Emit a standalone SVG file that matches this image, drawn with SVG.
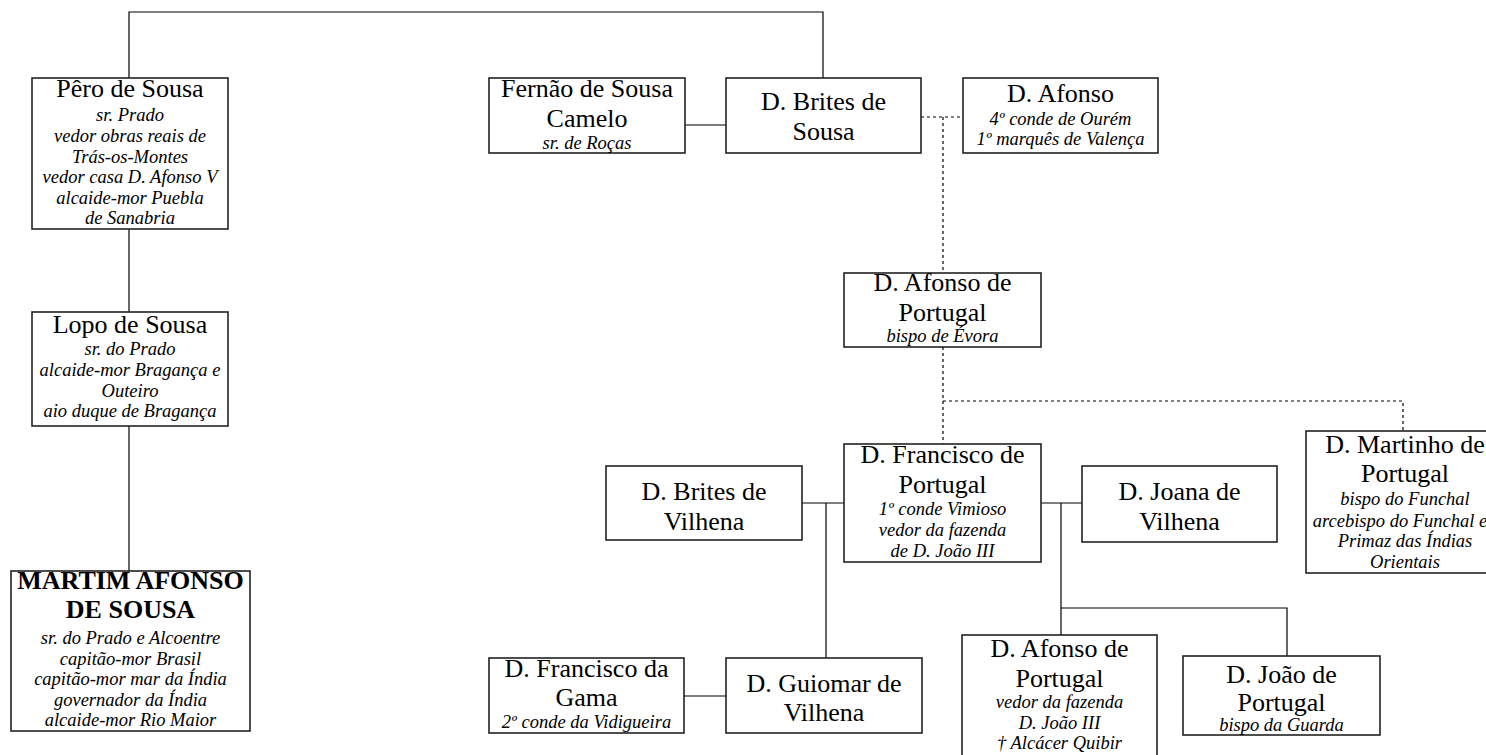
<svg xmlns="http://www.w3.org/2000/svg" width="1486" height="755" viewBox="0 0 1486 755">
  <style>
    .box { fill: #ffffff; stroke: #222222; stroke-width: 1.6; }
    .link { fill: none; stroke: #000000; stroke-width: 1.2; }
    .dot { fill: none; stroke: #000000; stroke-width: 1.2; stroke-dasharray: 3 3; }
    text { font-family: "Liberation Serif", "Times New Roman", serif; fill: #000000; text-anchor: middle; }
    .t { font-size: 26px; }
    .tb { font-size: 26px; font-weight: bold; }
    .s { font-size: 18.5px; font-style: italic; }
  </style>
  <rect width="1486" height="755" fill="#ffffff"/>

  <g id="connectors">
    <path class="link" d="M129,78 V12 H823 V78"/>
    <path class="link" d="M129,229 V312"/>
    <path class="link" d="M129,426 V571"/>
    <path class="link" d="M685,125 H726"/>
    <path class="dot" d="M921,117 H963"/>
    <path class="dot" d="M943,117 V273"/>
    <path class="dot" d="M943,347 V444"/>
    <path class="dot" d="M943,401 H1403 V431"/>
    <path class="link" d="M802,503 H844"/>
    <path class="link" d="M826,503 V658"/>
    <path class="link" d="M684,696 H726"/>
    <path class="link" d="M1041,503 H1082"/>
    <path class="link" d="M1061,503 V635"/>
    <path class="link" d="M1061,608 H1287 V656"/>
  </g>

  <g id="pero-de-sousa">
    <rect class="box" x="32" y="78" width="196" height="151"/>
    <text class="t" x="130" y="97">Pêro de Sousa</text>
    <text class="s" x="130" y="121">sr. Prado</text>
    <text class="s" x="130" y="142">vedor obras reais de</text>
    <text class="s" x="130" y="162.5">Trás-os-Montes</text>
    <text class="s" x="130" y="183">vedor casa D. Afonso V</text>
    <text class="s" x="130" y="204">alcaide-mor Puebla</text>
    <text class="s" x="130" y="224">de Sanabria</text>
  </g>

  <g id="lopo-de-sousa">
    <rect class="box" x="32" y="312" width="196" height="114"/>
    <text class="t" x="130" y="333">Lopo de Sousa</text>
    <text class="s" x="130" y="355">sr. do Prado</text>
    <text class="s" x="130" y="376">alcaide-mor Bragança e</text>
    <text class="s" x="130" y="397">Outeiro</text>
    <text class="s" x="130" y="417">aio duque de Bragança</text>
  </g>

  <g id="martim-afonso-de-sousa">
    <rect class="box" x="11" y="571" width="239" height="160"/>
    <text class="tb" x="130.5" y="589">MARTIM AFONSO</text>
    <text class="tb" x="130.5" y="618">DE SOUSA</text>
    <text class="s" x="130.5" y="644">sr. do Prado e Alcoentre</text>
    <text class="s" x="130.5" y="665">capitão-mor Brasil</text>
    <text class="s" x="130.5" y="685">capitão-mor mar da Índia</text>
    <text class="s" x="130.5" y="706">governador da Índia</text>
    <text class="s" x="130.5" y="726">alcaide-mor Rio Maior</text>
  </g>

  <g id="fernao-de-sousa-camelo">
    <rect class="box" x="489" y="78" width="196" height="75"/>
    <text class="t" x="587" y="97">Fernão de Sousa</text>
    <text class="t" x="587" y="127">Camelo</text>
    <text class="s" x="587" y="149">sr. de Roças</text>
  </g>

  <g id="brites-de-sousa">
    <rect class="box" x="726" y="78" width="195" height="75"/>
    <text class="t" x="823.5" y="110">D. Brites de</text>
    <text class="t" x="823.5" y="140">Sousa</text>
  </g>

  <g id="afonso-ourem">
    <rect class="box" x="963" y="78" width="195" height="75"/>
    <text class="t" x="1060.5" y="102">D. Afonso</text>
    <text class="s" x="1060.5" y="125">4º conde de Ourém</text>
    <text class="s" x="1060.5" y="145">1º marquês de Valença</text>
  </g>

  <g id="afonso-de-portugal-bispo">
    <rect class="box" x="844" y="273" width="197" height="74"/>
    <text class="t" x="942.5" y="291">D. Afonso de</text>
    <text class="t" x="942.5" y="321">Portugal</text>
    <text class="s" x="942.5" y="342">bispo de Évora</text>
  </g>

  <g id="francisco-de-portugal">
    <rect class="box" x="844" y="444" width="197" height="118"/>
    <text class="t" x="942.5" y="463">D. Francisco de</text>
    <text class="t" x="942.5" y="493">Portugal</text>
    <text class="s" x="942.5" y="515">1º conde Vimioso</text>
    <text class="s" x="942.5" y="536">vedor da fazenda</text>
    <text class="s" x="942.5" y="557">de D. João III</text>
  </g>

  <g id="brites-de-vilhena">
    <rect class="box" x="606" y="466" width="196" height="74"/>
    <text class="t" x="704" y="500">D. Brites de</text>
    <text class="t" x="704" y="530">Vilhena</text>
  </g>

  <g id="joana-de-vilhena">
    <rect class="box" x="1082" y="466" width="195" height="76"/>
    <text class="t" x="1179.5" y="500">D. Joana de</text>
    <text class="t" x="1179.5" y="530">Vilhena</text>
  </g>

  <!-- this box runs past the right edge of the sheet -->
  <g id="martinho-de-portugal">
    <rect class="box" x="1306" y="431" width="196" height="142"/>
    <text class="t" x="1405" y="453">D. Martinho de</text>
    <text class="t" x="1405" y="482">Portugal</text>
    <text class="s" x="1405" y="505">bispo do Funchal</text>
    <text class="s" x="1400" y="527">arcebispo do Funchal e</text>
    <text class="s" x="1405" y="547">Primaz das Índias</text>
    <text class="s" x="1405" y="568">Orientais</text>
  </g>

  <g id="francisco-da-gama">
    <rect class="box" x="489" y="658" width="195" height="75"/>
    <text class="t" x="586.5" y="677">D. Francisco da</text>
    <text class="t" x="586.5" y="706">Gama</text>
    <text class="s" x="586.5" y="728">2º conde da Vidigueira</text>
  </g>

  <g id="guiomar-de-vilhena">
    <rect class="box" x="726" y="658" width="196" height="75"/>
    <text class="t" x="824" y="692">D. Guiomar de</text>
    <text class="t" x="824" y="721">Vilhena</text>
  </g>

  <g id="afonso-de-portugal-vedor">
    <rect class="box" x="962" y="635" width="195" height="130"/>
    <text class="t" x="1059.5" y="657">D. Afonso de</text>
    <text class="t" x="1059.5" y="687">Portugal</text>
    <text class="s" x="1059.5" y="708">vedor da fazenda</text>
    <text class="s" x="1059.5" y="729">D. João III</text>
    <text class="s" x="1059.5" y="749">† Alcácer Quibir</text>
  </g>

  <g id="joao-de-portugal">
    <rect class="box" x="1183" y="656" width="197" height="79"/>
    <text class="t" x="1281.5" y="683">D. João de</text>
    <text class="t" x="1281.5" y="711">Portugal</text>
    <text class="s" x="1281.5" y="731">bispo da Guarda</text>
  </g>
</svg>
